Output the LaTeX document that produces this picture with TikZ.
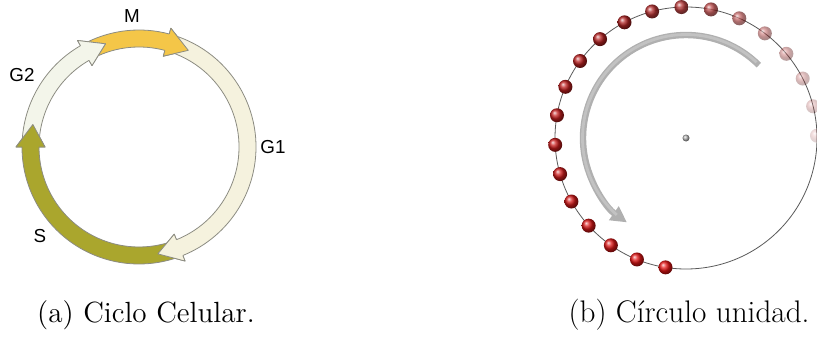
\documentclass[tikz,border=0pt]{standalone}
\usepackage{fontspec}
\usepackage{tikz}
\usetikzlibrary{arrows.meta}
\newfontfamily\phasefont{Liberation Sans}
\definecolor{mphase}  {RGB}{244, 198,  72}
\definecolor{gonephase}{RGB}{245, 242, 222}
\definecolor{sphase}  {RGB}{170, 166,  45}
\definecolor{gtwophase}{RGB}{243, 245, 234}
\definecolor{ringline}{RGB}{140, 140, 130}
\definecolor{beadred} {RGB}{230,  20,  20}
\definecolor{beaddark}{RGB}{175,  35,  35}
\tikzset{
	ringedge/.style={draw=ringline, line width=0.4pt, line join=round},
	phaselabel/.style={font=\phasefont\fontsize{9.4}{11}\selectfont},
	caption/.style={font=\fontsize{#1}{17}\selectfont}
}
% body of one phase arrow: tail angle, tip angle, colour
\newcommand{\phasebody}[3]{%
	\fill[#3] (#1:117) arc[start angle=#1, end angle=#2+12, radius=117] -- ({#2+12}:123) -- (#2:108.5) -- ({#2+12}:94) -- ({#2+12}:100) arc[start angle=#2+12, end angle=#1, radius=100] -- cycle;
	\draw[ringedge] (#1:117) arc[start angle=#1, end angle=#2+12, radius=117] -- ({#2+12}:123) -- (#2:108.5) -- ({#2+12}:94) -- ({#2+12}:100) arc[start angle=#2+12, end angle=#1, radius=100];
}
% head of one phase arrow again on top: tip angle, colour
\newcommand{\phasehead}[2]{%
	\fill[#2] ({#1+12}:117) -- ({#1+12}:123) -- (#1:108.5) -- ({#1+12}:94) -- ({#1+12}:100) -- cycle;
	\draw[ringedge] ({#1+12}:117) -- ({#1+12}:123) -- (#1:108.5) -- ({#1+12}:94) -- ({#1+12}:100);
}
\begin{document}
\begin{tikzpicture}[x=0.5pt,y=0.5pt]
	\useasboundingbox (0,0) rectangle (817,343);
	\clip (0,0) rectangle (817,343);
	% (a) cell cycle
	\begin{scope}[shift={(139,196)}]
		\phasebody{116.4}{63}{mphase}
		\phasebody{71.4}{-80}{gonephase}
		\phasebody{-71.6}{-192}{sphase}
		\phasebody{176.4}{108}{gtwophase}
		\phasehead{63}{mphase}
		\phasehead{-80}{gonephase}
		\phasehead{-192}{sphase}
		\phasehead{108}{gtwophase}
	\end{scope}
	\node[phaselabel] (labM) at (132,327) {M};
	\node[phaselabel] (labGtwo) at (22,268) {G2};
	\node[phaselabel] (labGone) at (273,196) {G1};
	\node[phaselabel] (labS) at (40,107) {S};
	% (b) unit circle
	\begin{scope}[shift={(686,205)}]
		\draw[gray!70!black, line width=0.4pt] (0,0) circle[radius=131];
		\foreach \k/\op in {0/1,1/1,2/1,3/1,4/1,5/1,6/1,7/1,8/1,9/1,10/1,11/1,12/0.95,13/0.9,14/0.8,15/0.65,16/0.5,17/0.4,18/0.32,19/0.25,20/0.18}{
			\pgfmathsetmacro{\mix}{max(0,100-9*\k)}
			\shade[ball color=beadred!\mix!beaddark, opacity=\op] ({-99-13*\k}:131) circle[radius=7];
		}
		\draw[gray!62, line width=3.2pt, -{Triangle[length=8pt,width=8pt]}] (45:103) arc[start angle=45, end angle=235, radius=103];
		\draw[gray!48, line width=1.4pt] (47:103.5) arc[start angle=47, end angle=228, radius=103.5];
		\shade[ball color=gray!60] (0,0) circle[radius=3.5];
	\end{scope}
	\node[caption=14.6] (capA) at (146,28) {(a) Ciclo Celular.};
	\node[caption=15.6] (capB) at (689,28) {(b) C\'irculo unidad.};
\end{tikzpicture}
\end{document}
